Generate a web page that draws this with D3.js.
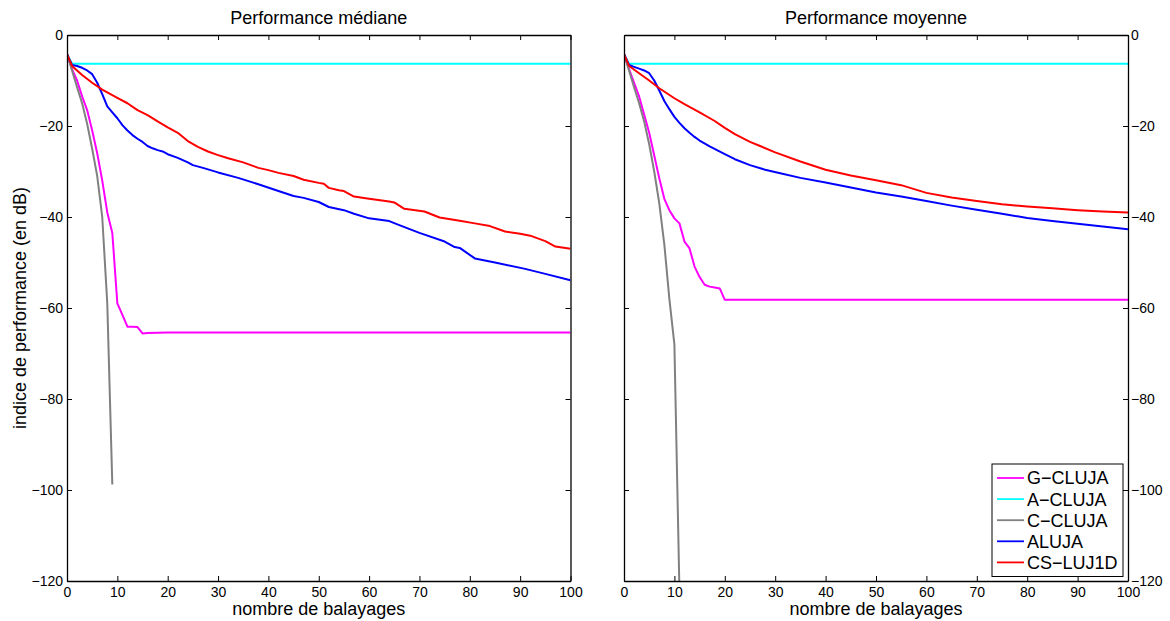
<!DOCTYPE html>
<html><head><meta charset="utf-8">
<script src="https://cdn.jsdelivr.net/npm/d3@7"></script>
<style>
body{margin:0;background:#fff;}
svg{font-family:"Liberation Sans",Arial,Helvetica,sans-serif;}
</style></head>
<body><svg id="c" width="1170" height="621"></svg>
<script>
// ---- data ----
const seriesNames = ["G−CLUJA","A−CLUJA","C−CLUJA","ALUJA","CS−LUJ1D"];
const seriesColors = ["#ff00ff","#00ffff","#808080","#0000ff","#ff0000"];
const panelTitles = ["Performance médiane","Performance moyenne"];
const xTicks = [0,10,20,30,40,50,60,70,80,90,100];
const yTicks = [0,-20,-40,-60,-80,-100,-120];

// median panel
const medGx = [0,1,2,3,4,5,6,7,8,9,10,11,12,13,14,15,16,20,100];
const medGy = [-4.2,-7.5,-10,-13.5,-16.5,-21,-26,-32,-39,-43.5,-59,-61.5,-64.1,-64.1,-64.2,-65.6,-65.5,-65.4,-65.4];
const medAx = [0,1,100];
const medAy = [-4.2,-6.3,-6.3];
const medCx = [0,1,2,3,4,5,6,7,8,9];
const medCy = [-4.2,-7.8,-11.5,-15,-19.5,-25,-31,-40,-59,-98.8];
const medALx = [0,1,2,3,4,5,6,7,8,9,10,11,12,13,14,15,16,17,18,19,20,22,24,25,27,30,34,38,42,45,47,50,52,55,57,60,64,66,70,75,77,78,81,85,91,95,100];
const medALy = [-4.2,-6.6,-6.8,-7.2,-7.8,-8.6,-10.5,-13,-15.7,-17,-18.3,-19.8,-21,-22,-22.8,-23.5,-24.4,-24.9,-25.3,-25.6,-26.2,-27,-28,-28.6,-29.2,-30.2,-31.4,-32.8,-34.3,-35.4,-35.8,-36.7,-37.8,-38.5,-39.3,-40.3,-40.9,-41.8,-43.5,-45.4,-46.6,-46.8,-49.1,-50,-51.4,-52.5,-53.9];
const medCSx = [0,1,3,5,7,10,12,14,16,18,20,22,24,26,28,30,32,35,38,40,42,45,47,50,51,52,54,55,57,60,64,65,67,71,74,78,81,84,87,90,92,95,97,100];
const medCSy = [-4.2,-6.8,-8.8,-10.5,-12,-13.8,-15,-16.5,-17.6,-19,-20.3,-21.5,-23.3,-24.6,-25.6,-26.4,-27.1,-28,-29.2,-29.7,-30.3,-31,-31.8,-32.5,-32.7,-33.6,-34.1,-34.3,-35.5,-36,-36.6,-36.8,-38.2,-38.8,-40.1,-40.8,-41.4,-42,-43.2,-43.7,-44.1,-45.3,-46.5,-47];

// mean panel
const meanGx = [0,1,2,3,4,5,6,7,8,9,10,11,12,13,14,15,16,17,18,19,20,100];
const meanGy = [-4.2,-7.5,-10.5,-13.5,-17.5,-21.5,-26.5,-31.5,-36,-38.5,-40.3,-41.4,-45.4,-46.9,-50.9,-53.2,-54.9,-55.3,-55.5,-55.7,-58.2,-58.2];
const meanAx = [0,1,100];
const meanAy = [-4.2,-6.3,-6.3];
const meanCx = [0,1,2,3,4,5,6,7,8,9,10,11];
const meanCy = [-4.2,-7.8,-11.5,-15,-19,-24,-30,-37,-46,-58,-68,-122];
const meanALx = [0,1,2,3,4,5,6,7,8,9,10,11,12,13,14,15,17,20,22,25,28,31,35,40,45,50,55,60,65,70,75,80,85,90,95,100];
const meanALy = [-4.2,-6.6,-7,-7.4,-7.8,-8.4,-10,-12.2,-14.5,-16.3,-18,-19.3,-20.5,-21.5,-22.4,-23.2,-24.5,-26.2,-27.3,-28.6,-29.6,-30.4,-31.4,-32.4,-33.5,-34.6,-35.5,-36.5,-37.5,-38.4,-39.3,-40.2,-40.9,-41.5,-42.1,-42.7];
const meanCSx = [0,1,3,5,7,10,12,15,18,20,22,25,27,30,35,40,45,50,55,60,65,70,75,80,85,90,95,100];
const meanCSy = [-4.2,-6.8,-8.4,-10,-11.7,-13.9,-15.2,-17,-18.9,-20.4,-21.8,-23.5,-24.4,-25.8,-27.8,-29.6,-30.9,-31.9,-33,-34.7,-35.7,-36.5,-37.2,-37.7,-38.1,-38.5,-38.8,-39];

const panels = [
  {xs:[medGx,medAx,medCx,medALx,medCSx], ys:[medGy,medAy,medCy,medALy,medCSy]},
  {xs:[meanGx,meanAx,meanCx,meanALx,meanCSx], ys:[meanGy,meanAy,meanCy,meanALy,meanCSy]}
];

// ---- layout ----
const svg = d3.select("#c");
const plotTop = 35, plotBottom = 581;
const panelX = [[67,570.5],[624,1128]];
const y = d3.scaleLinear().domain([-120,0]).range([plotBottom, plotTop]);

panels.forEach((p, i) => {
  const x = d3.scaleLinear().domain([0,100]).range(panelX[i]);
  const g = svg.append("g");
  const cid = "clip"+i;
  svg.append("clipPath").attr("id",cid).append("rect")
    .attr("x",panelX[i][0]).attr("y",plotTop).attr("width",panelX[i][1]-panelX[i][0]).attr("height",plotBottom-plotTop);

  const line = d3.line().x(d=>x(d[0])).y(d=>y(d[1]));
  const lg = g.append("g").attr("clip-path",`url(#${cid})`);
  p.xs.forEach((xs, k) => {
    const pts = xs.map((v,j)=>[v,p.ys[k][j]]);
    lg.append("path").attr("d",line(pts)).attr("fill","none")
      .attr("stroke",seriesColors[k]).attr("stroke-width",2).attr("stroke-linejoin","round");
  });

  const styleAxis = a => {
    a.selectAll("path.domain").attr("stroke","#000").attr("stroke-width",1.3);
    a.selectAll(".tick line").attr("stroke","#000").attr("stroke-width",1);
    a.selectAll(".tick text").attr("font-size",14).attr("fill","#000")
      .attr("font-family",'"Liberation Sans",Arial,sans-serif');
  };
  g.append("g").attr("transform",`translate(0,${plotBottom})`)
    .call(d3.axisBottom(x).tickValues(xTicks).tickSize(-5).tickSizeOuter(0).tickPadding(6)).call(styleAxis);
  g.append("g").attr("transform",`translate(0,${plotTop})`)
    .call(d3.axisTop(x).tickValues(xTicks).tickSize(-5).tickSizeOuter(0).tickFormat("")).call(styleAxis);
  if (i===0) {
    g.append("g").attr("transform",`translate(${panelX[i][0]},0)`)
      .call(d3.axisLeft(y).tickValues(yTicks).tickSize(-5).tickSizeOuter(0).tickPadding(4)).call(styleAxis);
    g.append("g").attr("transform",`translate(${panelX[i][1]},0)`)
      .call(d3.axisRight(y).tickValues(yTicks).tickSize(-5).tickSizeOuter(0).tickFormat("")).call(styleAxis);
  } else {
    g.append("g").attr("transform",`translate(${panelX[i][0]},0)`)
      .call(d3.axisLeft(y).tickValues(yTicks).tickSize(-5).tickSizeOuter(0).tickFormat("")).call(styleAxis);
    g.append("g").attr("transform",`translate(${panelX[i][1]},0)`)
      .call(d3.axisRight(y).tickValues(yTicks).tickSize(-5).tickSizeOuter(0).tickPadding(3)).call(styleAxis);
  }
  const cx = (panelX[i][0]+panelX[i][1])/2;
  g.append("text").attr("x",cx).attr("y",24).attr("text-anchor","middle")
    .attr("font-size",18).text(panelTitles[i]);
  g.append("text").attr("x",cx).attr("y",615).attr("text-anchor","middle")
    .attr("font-size",18).text("nombre de balayages");
});

svg.append("text").attr("transform","translate(25.5,308) rotate(-90)")
  .attr("text-anchor","middle").attr("font-size",18).text("indice de performance (en dB)");

// legend
const leg = svg.append("g");
leg.append("rect").attr("x",992).attr("y",464).attr("width",131).attr("height",112.5)
  .attr("fill","#fff").attr("stroke","#000").attr("stroke-width",1);
seriesNames.forEach((n,k)=>{
  const yy = 478 + k*21.1;
  leg.append("line").attr("x1",997).attr("x2",1024).attr("y1",yy).attr("y2",yy)
    .attr("stroke",seriesColors[k]).attr("stroke-width",1.8);
  leg.append("text").attr("x",1027).attr("y",yy).attr("dy","0.36em")
    .attr("font-size",18).text(n);
});
</script></body></html>
